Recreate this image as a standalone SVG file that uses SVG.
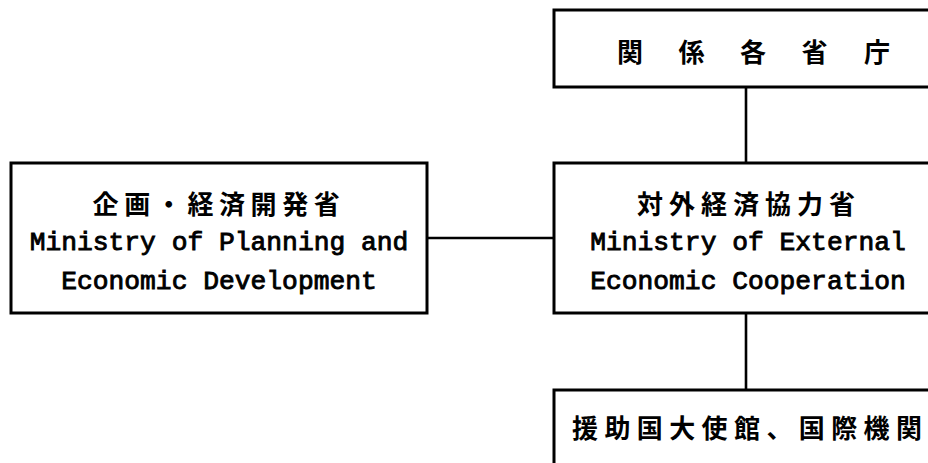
<svg xmlns="http://www.w3.org/2000/svg" width="928" height="463" viewBox="0 0 928 463">
<style>
.box{fill:#fff;stroke:#000;stroke-width:3}
.ln{stroke:#000;stroke-width:2.6;fill:none}
.jp{font-family:"Noto Sans CJK JP","Noto Sans CJK SC",sans-serif;font-size:26px;font-weight:700;fill:#000}
.en{font-family:"Liberation Mono","DejaVu Sans Mono",monospace;font-size:26.3px;fill:#000;stroke:#000;stroke-width:0.9}
</style>
<rect width="928" height="463" fill="#fff"/>
<g id="connectors">
<line class="ln" x1="427" y1="238" x2="554" y2="238"/>
<line class="ln" x1="746" y1="87" x2="746" y2="163"/>
<line class="ln" x1="746" y1="313" x2="746" y2="390"/>
</g>
<g id="node-planning">
<rect class="box" x="11" y="163" width="416" height="150"/>
<text class="jp" x="219" y="214" text-anchor="middle" letter-spacing="5.6">企画・経済開発省</text>
<text class="en" x="219" y="250" text-anchor="middle">Ministry of Planning and</text>
<text class="en" x="219" y="289" text-anchor="middle">Economic Development</text>
</g>
<g id="node-agencies">
<rect class="box" x="554" y="10" width="390" height="77"/>
<text class="jp" y="62" x="617 643 678.5 704 740 766 801.5 827 864">関 係 各 省 庁</text>
</g>
<g id="node-external">
<rect class="box" x="554" y="163" width="390" height="150"/>
<text class="jp" x="749" y="214" text-anchor="middle" letter-spacing="6">対外経済協力省</text>
<text class="en" x="748" y="250" text-anchor="middle">Ministry of External</text>
<text class="en" x="748" y="289" text-anchor="middle">Economic Cooperation</text>
</g>
<g id="node-embassies">
<rect class="box" x="554" y="390" width="390" height="90"/>
<text class="jp" x="572" y="438" letter-spacing="6.4">援助国大使館、国際機関</text>
</g>
</svg>
